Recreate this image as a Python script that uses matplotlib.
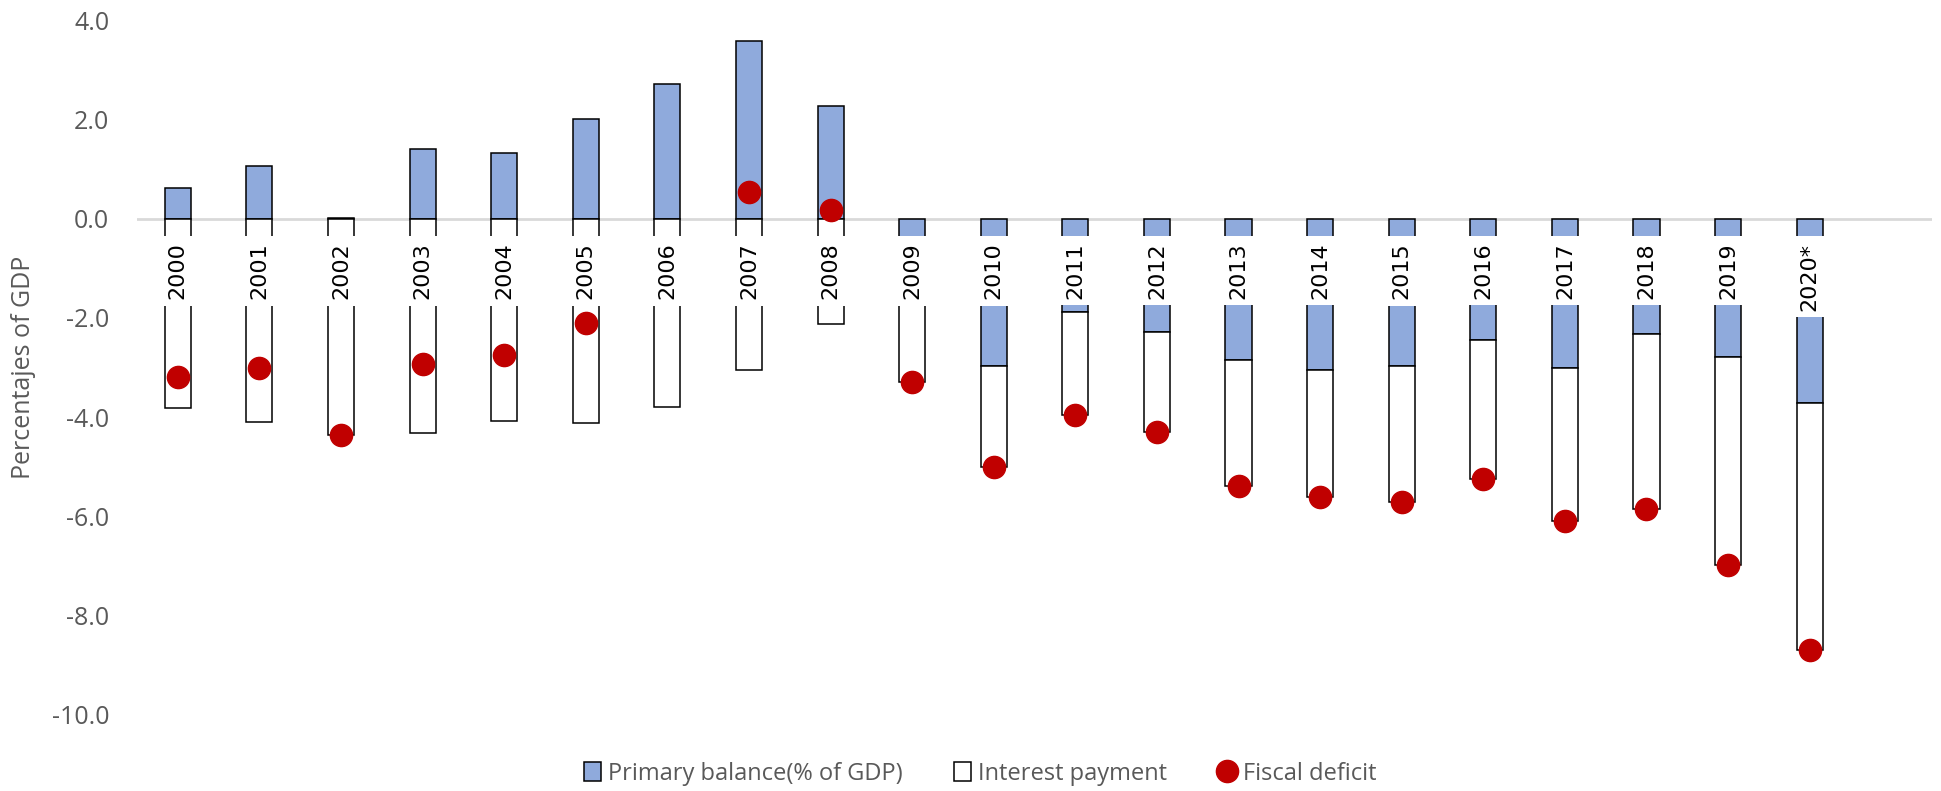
import matplotlib.pyplot as plt
import numpy as np

years = ["2000", "2001", "2002", "2003", "2004", "2005", "2006", "2007", "2008", "2009",
         "2010", "2011", "2012", "2013", "2014", "2015", "2016", "2017", "2018", "2019", "2020*"]
primary = [0.63, 1.08, 0.02, 1.41, 1.34, 2.02, 2.73, 3.60, 2.29, -1.20,
           -2.97, -1.87, -2.28, -2.85, -3.06, -2.97, -2.44, -3.02, -2.32, -2.79, -3.71]
interest = [3.82, 4.10, 4.37, 4.33, 4.09, 4.13, 3.80, 3.05, 2.12, 2.09,
            2.05, 2.09, 2.02, 2.54, 2.56, 2.74, 2.82, 3.09, 3.53, 4.19, 5.00]
fiscal = [-3.19, -3.02, -4.36, -2.92, -2.75, -2.11, -1.07, 0.55, 0.18, -3.29,
          -5.02, -3.96, -4.30, -5.39, -5.62, -5.71, -5.26, -6.11, -5.85, -6.98, -8.71]

gray = "#595959"
plt.rcParams["font.family"] = ["Open Sans", "DejaVu Sans"]

fig = plt.figure(figsize=(19.41, 7.91), dpi=100)
ax = fig.add_axes([0.0706, 0.0973, 0.9248, 0.8762])

x = np.arange(len(years))
p = np.array(primary)
w = 0.32

# primary balance stacks from zero; interest goes below zero or below a negative primary
b1 = ax.bar(x, p, w, color="#8FAADC", edgecolor="black", linewidth=1.1, zorder=2,
            label="Primary balance(% of GDP)")
b2 = ax.bar(x, -np.array(interest), w, bottom=np.where(p > 0, 0, p), color="white",
            edgecolor="black", linewidth=1.1, zorder=2, label="Interest payment")
l1, = ax.plot(x, fiscal, "o", color="#C00000", markersize=16, zorder=3, label="Fiscal deficit")

ax.axhline(0, color="#D9D9D9", linewidth=2, zorder=1)

for i, yr in enumerate(years):
    ax.annotate(yr, (i, 0), xytext=(0, -17), textcoords="offset points",
                rotation=90, ha="center", va="top", fontsize=16, family="DejaVu Sans",
                color="black", zorder=5,
                bbox=dict(boxstyle="square,pad=0.28", fc="white", ec="none"))

ax.set_xlim(-0.5, 21.5)
ax.set_ylim(-10, 4)
ax.set_yticks(np.arange(-10, 5, 2))
ax.set_yticklabels([f"{v:.1f}" for v in np.arange(-10, 5, 2)])
ax.set_xticks([])
ax.tick_params(axis="y", length=0, pad=20, labelsize=18, labelcolor=gray)
for s in ax.spines.values():
    s.set_visible(False)

fig.text(0.012, 0.535, "Percentajes of GDP", rotation=90, ha="center", va="center",
         fontsize=18, color=gray)

fig.legend(handles=[b1, b2, l1], loc="center", bbox_to_anchor=(0.505, 0.022), ncol=3,
           frameon=False, fontsize=17, handlelength=0.7, handleheight=0.9,
           handletextpad=0.3, columnspacing=2.2, labelcolor=gray)

fig.savefig("out.png", dpi=100)
